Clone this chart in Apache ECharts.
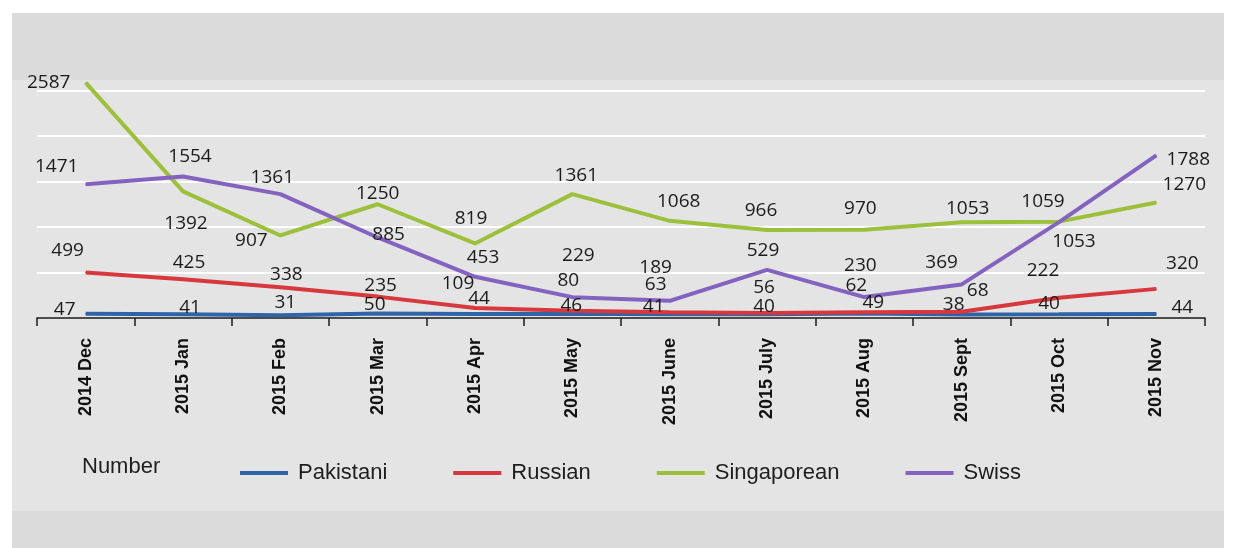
<!DOCTYPE html>
<html>
<head>
<meta charset="utf-8">
<script src="https://cdn.jsdelivr.net/npm/echarts@6/dist/echarts.min.js"></script>
<style>
  html, body { margin: 0; padding: 0; background: #ffffff; }
  #chart { width: 1234px; height: 548px; }
</style>
</head>
<body>
<div id="chart"></div>
<script>
const categories = ['2014 Dec', '2015 Jan', '2015 Feb', '2015 Mar', '2015 Apr', '2015 May', '2015 June', '2015 July', '2015 Aug', '2015 Sept', '2015 Oct', '2015 Nov'];
const seriesNames = ['Pakistani', 'Russian', 'Singaporean', 'Swiss'];
const pakistani = [47, 41, 31, 50, 44, 46, 41, 40, 49, 38, 40, 44];
const russian = [499, 425, 338, 235, 109, 80, 63, 56, 62, 68, 222, 320];
const singaporean = [2587, 1392, 907, 1250, 819, 1361, 1068, 966, 970, 1053, 1059, 1270];
const swiss = [1471, 1554, 1361, 885, 453, 229, 189, 529, 230, 369, 1053, 1788];
const legendTitle = 'Number';

// label nudges (styling only), [dx, dy] from each point
const labelNudge = {
  Pakistani: [[-21,-4],[7,-7],[5,-13],[-3,-9],[4,-15],[-1,-8],[-16,-8],[-3,-8],[9,-11],[-8,-10],[-10,-11],[26,-6]],
  Russian: [[-18,-22],[6,-17],[6,-13],[3,-11],[-17,-24],[-4,-30],[-14,-28],[-3,-25],[-8,-27],[16,-21],[-16,-27],[26,-25]],
  Singaporean: [[-37,0],[3,32],[-29,5],[0,-11],[-4,-25],[4,-19],[9,-19],[-6,-20],[-4,-21],[6,-14],[-16,-20],[28,-18]],
  Swiss: [[-29,-18],[7,-20],[-8,-17],[11,-3],[8,-19],[6,-42],[-14,-33],[-4,-19],[-4,-31],[-20,-22],[15,19],[32,4]]
};
const colors = { Pakistani: '#2f64a8', Russian: '#d7383d', Singaporean: '#9cc03c', Swiss: '#8462bf' };
const values = { Pakistani: pakistani, Russian: russian, Singaporean: singaporean, Swiss: swiss };

const chart = echarts.init(document.getElementById('chart'), null, { renderer: 'canvas' });

const series = seriesNames.map(name => ({
  name: name,
  type: 'line',
  data: values[name].map((v, i) => ({
    value: v,
    label: { offset: labelNudge[name][i] }
  })),
  symbol: 'circle',
  symbolSize: 1,
  showSymbol: true,
  showAllSymbol: true,
  itemStyle: { color: colors[name] },
  lineStyle: { color: colors[name], width: 4 },
  emphasis: { disabled: true },
  animation: false,
  label: {
    show: true,
    position: 'inside',
    color: '#1b1b1b',
    fontFamily: 'Open Sans',
    fontSize: 19
  }
}));

const option = {
  animation: false,
  backgroundColor: 'transparent',
  graphic: [
    { type: 'rect', z: -10, shape: { x: 12, y: 13, width: 1212, height: 535 }, style: { fill: '#dbdbdb' } },
    { type: 'rect', z: -9, shape: { x: 12, y: 80, width: 1212, height: 431 }, style: { fill: '#e4e4e4' } },
    { type: 'text', left: 82, top: 456, style: { text: legendTitle, font: '22px "Liberation Sans", Arial, sans-serif', fill: '#1e1e1e' } }
  ],
  grid: { left: 37, right: 29, top: 45, bottom: 230, containLabel: false },
  legend: {
    data: seriesNames,
    left: 235,
    top: 457,
    icon: 'rect',
    itemWidth: 48,
    itemHeight: 4,
    itemGap: 66,
    selectedMode: false,
    textStyle: { fontFamily: 'Liberation Sans', fontSize: 22, color: '#1e1e1e', padding: [0, 0, 0, 5] }
  },
  xAxis: {
    type: 'category',
    data: categories,
    boundaryGap: true,
    axisLine: { show: true, lineStyle: { color: '#1a1a1a', width: 1.5 } },
    axisTick: { show: true, inside: false, length: 8, interval: 0, alignWithLabel: false, lineStyle: { color: '#1a1a1a', width: 1.5 } },
    axisLabel: {
      interval: 0,
      rotate: 90,
      margin: 20,
      color: '#111',
      fontFamily: 'Liberation Sans',
      fontWeight: 'bold',
      fontSize: 18
    },
    splitLine: { show: false }
  },
  yAxis: {
    type: 'value',
    min: 0,
    max: 3000,
    interval: 500,
    axisLine: { show: false },
    axisTick: { show: false },
    axisLabel: { show: false },
    splitLine: { show: true, showMinLine: false, showMaxLine: false, lineStyle: { color: '#ffffff', width: 2 } }
  },
  series: series
};
chart.setOption(option);
</script>
</body>
</html>
